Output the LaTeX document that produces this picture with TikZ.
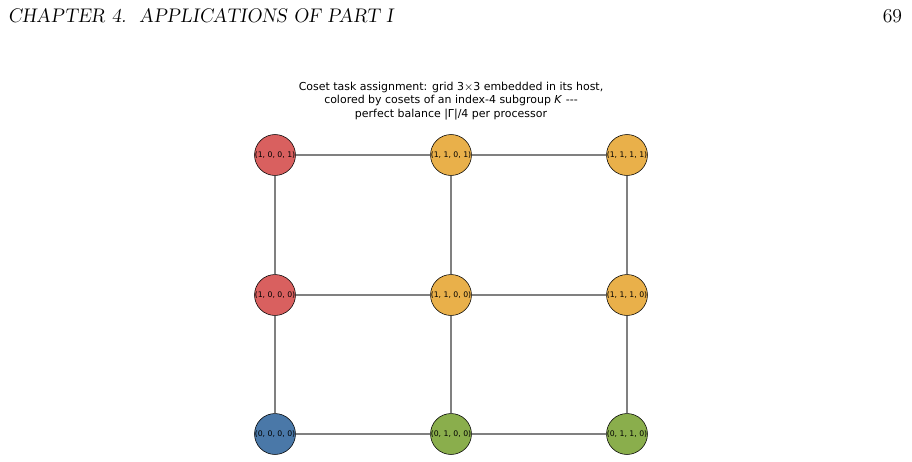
\documentclass[tikz,border=0pt]{standalone}
\usepackage{fontspec}
\newfontfamily\dejavu{DejaVu Sans}
\definecolor{cosetred}{HTML}{D9605F}
\definecolor{cosetyellow}{HTML}{E9B04A}
\definecolor{cosetblue}{HTML}{4A78A8}
\definecolor{cosetgreen}{HTML}{8AAE4C}
\tikzset{
  vert/.style={circle,draw=black,thin,minimum size=27pt,inner sep=0pt,font=\dejavu\fontsize{5.5}{6}\selectfont},
  edge/.style={draw=gray,line width=1.1pt}
}
\begin{document}
\begin{tikzpicture}[x=0.025cm,y=-0.025cm]
\useasboundingbox (0,0) rectangle (912,461);
\node[anchor=west,font=\fontsize{14}{16}\selectfont\slshape] (head) at (3,16) {CHAPTER 4.\ \ APPLICATIONS OF PART I};
\node[anchor=east,font=\fontsize{14}{16}\selectfont] (page) at (907,16) {69};
\node[align=center,font=\dejavu\fontsize{7.8}{9.6}\selectfont] (title) at (451,101)
  {Coset task assignment: grid 3$\times$3 embedded in its host,\\
   colored by cosets of an index-4 subgroup \textit{K} ---\\
   perfect balance |\textup{Γ}|/4 per processor};
% grid edges
\foreach \a/\b in {a/b,b/c,d/e,e/f,g/h,h/i,a/d,d/g,b/e,e/h,c/f,f/i}
  \coordinate (e\a\b);
\node[vert,fill=cosetred] (a) at (275,155) {(1, 0, 0, 1)};
\node[vert,fill=cosetyellow] (b) at (451,155) {(1, 1, 0, 1)};
\node[vert,fill=cosetyellow] (c) at (627,155) {(1, 1, 1, 1)};
\node[vert,fill=cosetred] (d) at (275,295) {(1, 0, 0, 0)};
\node[vert,fill=cosetyellow] (e) at (451,295) {(1, 1, 0, 0)};
\node[vert,fill=cosetyellow] (f) at (627,295) {(1, 1, 1, 0)};
\node[vert,fill=cosetblue] (g) at (275,434) {(0, 0, 0, 0)};
\node[vert,fill=cosetgreen] (h) at (451,434) {(0, 1, 0, 0)};
\node[vert,fill=cosetgreen] (i) at (627,434) {(0, 1, 1, 0)};
\foreach \a/\b in {a/b,b/c,d/e,e/f,g/h,h/i,a/d,d/g,b/e,e/h,c/f,f/i}
  \draw[edge] (\a) -- (\b);
\end{tikzpicture}
\end{document}
